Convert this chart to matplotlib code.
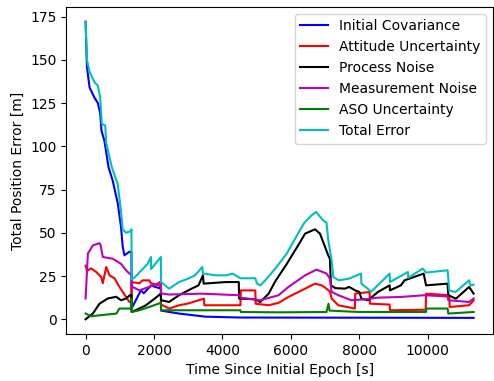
import numpy as np
import matplotlib
matplotlib.use("Agg")
import matplotlib.pyplot as plt

## values (time [s], error [m])
t_init = [0, 38, 116, 262, 358, 427, 465, 552, 669, 794, 940, 1037, 1085, 1134, 1280, 1340,
          1345, 1617, 1700, 1910, 2150, 2200, 2205, 2730, 3500, 4525, 11340]
v_init = [172, 146, 134, 128, 125, 119, 109, 103, 88, 80, 67, 53, 42, 37, 39, 39,
          6.3, 16.7, 15, 19.5, 18, 19, 5, 3.3, 1.5, 1.0, 0.8]

t_att = [0, 40, 165, 311, 455, 503, 602, 698, 843, 988, 1183, 1280, 1340, 1345, 1570, 1666,
         1860, 1910, 2150, 2200, 2205, 2440, 2730, 2975, 3460, 3470, 4525, 4535, 4960,
         4970, 5350, 5640, 5930, 6415, 6705, 6900, 7040, 7140, 7190, 7385, 7870, 7880, 8300,
         8310, 8885, 8895, 9940, 9950, 10630, 10640, 11210, 11300, 11340]
v_att = [31, 28, 29.4, 27.3, 24.4, 20.8, 30.2, 25.4, 23.7, 18.7, 12.9, 10, 10, 21.5, 20.8, 22.5,
         22.5, 20.8, 19.6, 19.6, 8.5, 6.2, 8.1, 9, 11.9, 8.1, 8.1, 16.7, 16.7,
         9, 8.1, 9.5, 12.9, 17.7, 20.6, 19.6, 17.7, 16, 12, 8.1, 6.2, 14.8, 15.8,
         9, 8.5, 5.2, 5.5, 14.8, 13.9, 7.1, 8.1, 10, 11]

t_proc = [0, 212, 407, 648, 892, 1037, 1183, 1300, 1340, 1345, 1570, 1764, 1957, 2200, 2205,
          2440, 2730, 3100, 3300, 3430, 3450, 4100, 4477, 4487, 4960, 5105,
          5350, 5545, 5880, 6220, 6415, 6705, 6850, 7000, 7090, 7140, 7170, 7300, 7580, 7700,
          7900, 8000, 8060, 8255, 8545, 8885, 8895, 9215, 9320, 9880, 9950, 10580, 10600,
          10823, 11210, 11340]
v_proc = [0, 3.3, 9, 12, 13, 11, 12, 14, 14, 4.2, 6.2, 8.1, 11, 14.8, 11,
          10, 13.9, 17.7, 19.6, 25.4, 20.6, 21.5, 21.5, 12, 11.5, 10,
          14.8, 22, 32, 43, 49.5, 52, 49.5, 41.7, 37, 35, 19.6, 18, 17.7, 18.7,
          16.5, 15.8, 11.9, 11, 15.8, 19.6, 16.7, 19.6, 22.5, 26.4, 19.6, 20.6, 13.9,
          11.9, 18.7, 14.8]

t_meas = [0, 67, 212, 407, 440, 503, 794, 1037, 1183, 1280, 1340, 1345, 1570, 1900, 2150, 2200,
          2205, 2440, 3400, 4480, 4535, 5105, 5640, 5930, 6415, 6750, 7045, 7140, 7190,
          7385, 7770, 8160, 8545, 9215, 9900, 10580, 10600, 11210, 11340]
v_meas = [12, 38, 42.7, 44, 42.7, 36, 35, 32, 28.3, 26.4, 26, 19, 16.7, 19, 21, 22,
          15, 14.3, 14.8, 13.9, 12.5, 11, 13.9, 18.7, 25.4, 28.7, 26.4, 23.5, 15.8,
          13.9, 11, 11.5, 12.5, 12.9, 13.9, 13.2, 11, 10, 12]

t_aso = [0, 165, 407, 900, 988, 1300, 1340, 1342, 1348, 1570, 1860, 2200, 2205, 4525, 4535,
         5640, 7040, 7100, 7130, 8000, 9950, 9955, 10580, 10600, 11340]
v_aso = [3.3, 1.7, 2.3, 3.3, 6.2, 6.2, 6.2, 12, 4.2, 5.2, 7.1, 9.5, 5.2, 5.2, 4.2,
         4, 4.2, 9, 5, 4.2, 4.2, 6.2, 6.2, 3.3, 4.2]

t_tot = [0, 40, 116, 262, 358, 427, 474, 573, 602, 765, 940, 1037, 1085, 1183, 1328, 1340,
         1345, 1424, 1570, 1812, 1910, 1915, 2200, 2205, 2440, 2730, 3000, 3200, 3410, 3430,
         3800, 4100, 4300, 4525, 4960, 5010, 5105, 5250, 5545, 5880, 6220, 6400, 6600, 6735,
         6950, 7040, 7090, 7190, 7240, 7400, 7700, 8050, 8060, 8350, 8887, 8895, 9420, 9430,
         9855, 9950, 10580, 10630, 10815, 11210, 11250, 11340]
v_tot = [172, 150, 143, 137, 135, 128, 113, 112, 102, 88, 78, 62, 52, 50, 51, 52,
         23, 24, 27, 32, 36, 29, 36, 21.5, 17.7, 21.5, 23.5, 25.4, 30.2, 26.5,
         25.4, 25.4, 26.4, 23.7, 23.7, 20.6, 19.6, 22.5, 29.3, 38, 50, 56, 60, 62,
         57, 56, 46, 34, 24.4, 22.5, 23.5, 26.4, 20.6, 16, 26.4, 21.5, 27.3, 24,
         29.3, 27, 28.3, 16.5, 15.8, 22.5, 19.5, 20]

fig = plt.figure(figsize=(4.94, 3.81), dpi=100)
ax = fig.add_subplot(111)
ax.plot(t_init, v_init, color='b', label='Initial Covariance')
ax.plot(t_att, v_att, color='r', label='Attitude Uncertainty')
ax.plot(t_proc, v_proc, color='k', label='Process Noise')
ax.plot(t_meas, v_meas, color='m', label='Measurement Noise')
ax.plot(t_aso, v_aso, color='g', label='ASO Uncertainty')
ax.plot(t_tot, v_tot, color='c', label='Total Error')

ax.set_xlabel('Time Since Initial Epoch [s]')
ax.set_ylabel('Total Position Error [m]')
ax.legend(loc='upper right')
fig.subplots_adjust(left=0.134, right=0.998, top=0.982, bottom=0.123)
fig.savefig('out.png', dpi=100)
